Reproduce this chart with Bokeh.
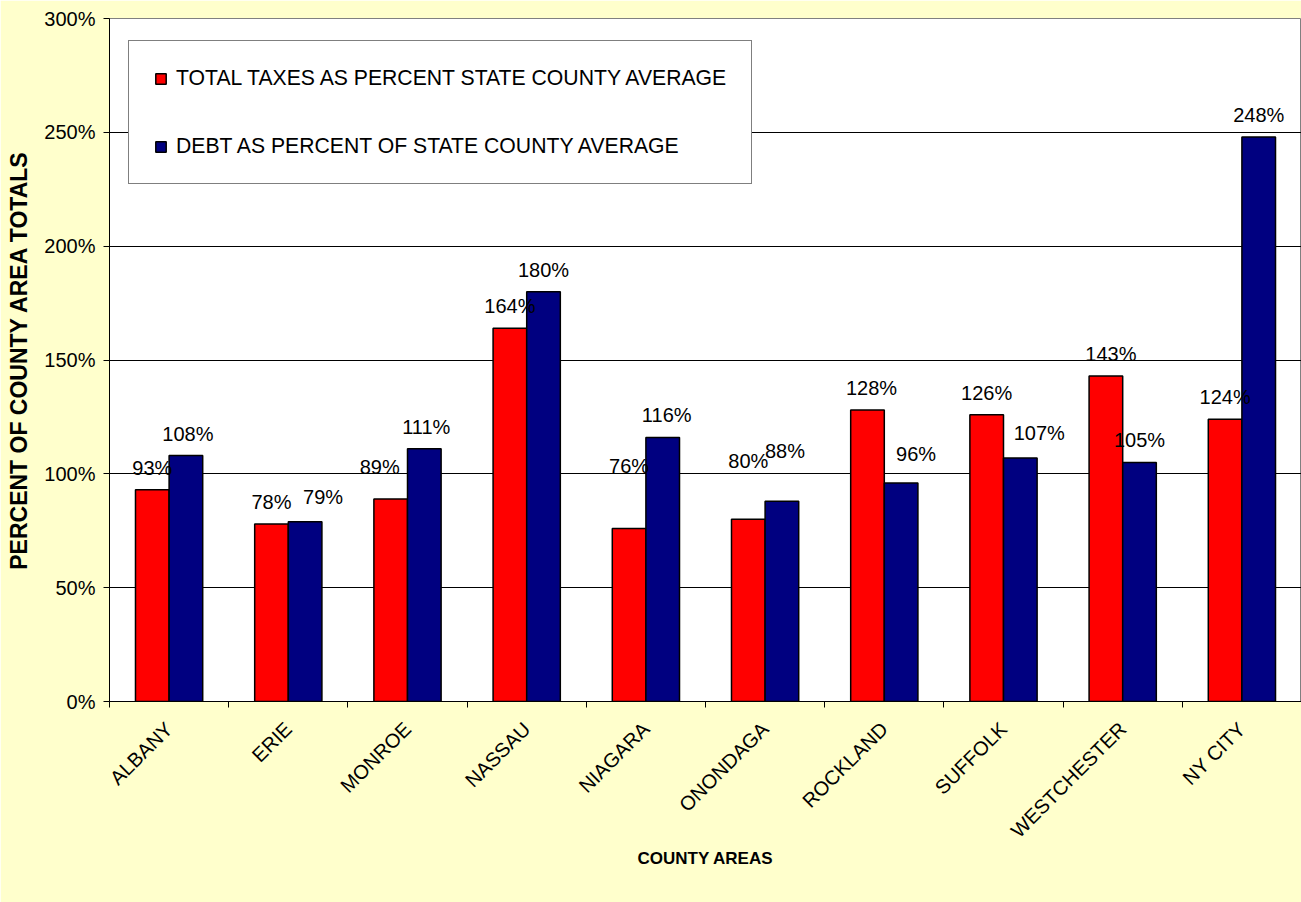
import math
from bokeh.plotting import figure
from bokeh.models import (Range1d, FixedTicker, PrintfTickFormatter, ColumnDataSource,
                          Legend, LegendItem)
from bokeh.core.properties import value
from bokeh.embed import file_html
from bokeh.resources import INLINE

counties = ["ALBANY", "ERIE", "MONROE", "NASSAU", "NIAGARA", "ONONDAGA",
            "ROCKLAND", "SUFFOLK", "WESTCHESTER", "NY CITY"]
taxes_pct = [93, 78, 89, 164, 76, 80, 128, 126, 143, 124]
debt_pct = [108, 79, 111, 180, 116, 88, 96, 107, 105, 248]
y_ticks = [0, 50, 100, 150, 200, 250, 300]

# manual label nudges (screen pixels), as in the original chart
tax_label_dx = [0, 0, -11, 0, 0, 0, 4, 0, 5, 0]
tax_label_dy = [0, 0, -10, 0, -40, -36, 0, 0, 0, 0]
debt_label_dx = [2, 18, 2, 0, 4, 3, 15, 19, 0, 0]
debt_label_dy = [0, -3, 0, 0, 0, -28, -7, -3, 0, 0]

FONT = "Liberation Sans"
BG = "#FFFFCC"
RED = "#FF0000"
NAVY = "#000080"

n = len(counties)
centers = [i + 0.5 for i in range(n)]
bar_w = 0.282
half = bar_w / 2

p = figure(width=1301, height=902, output_backend="svg", toolbar_location=None,
           x_range=Range1d(0, n), y_range=Range1d(0, 300),
           background_fill_color="white", border_fill_color=BG,
           min_border_left=109, min_border_right=0, min_border_top=18,
           min_border_bottom=201)
p.outline_line_color = "#808080"
p.outline_line_width = 1

tax_src = ColumnDataSource(dict(
    x=[c - half for c in centers], top=taxes_pct,
    label=[f"{v}%" for v in taxes_pct], dx=tax_label_dx,
    dy=[-22 + d for d in tax_label_dy]))
debt_src = ColumnDataSource(dict(
    x=[c + half for c in centers], top=debt_pct,
    label=[f"{v}%" for v in debt_pct], dx=debt_label_dx,
    dy=[-22 + d for d in debt_label_dy]))

r1 = p.vbar(x="x", top="top", bottom=0, width=bar_w, source=tax_src,
            fill_color=RED, line_color="black", line_width=1.5)
r2 = p.vbar(x="x", top="top", bottom=0, width=bar_w, source=debt_src,
            fill_color=NAVY, line_color="black", line_width=1.5)

for src in (tax_src, debt_src):
    p.text(x="x", y="top", text="label", source=src, x_offset="dx", y_offset="dy",
           text_align="center", text_baseline="middle",
           text_font=value(FONT), text_font_size="20px", text_color="black")

# grid
p.xgrid.visible = False
p.ygrid.ticker = FixedTicker(ticks=y_ticks[1:-1])
p.ygrid.grid_line_color = "black"
p.ygrid.grid_line_width = 1

# y axis
ya = p.yaxis[0]
ya.ticker = FixedTicker(ticks=y_ticks)
ya.formatter = PrintfTickFormatter(format="%d%%")
ya.axis_line_color = "black"
ya.major_tick_line_color = "black"
ya.major_tick_in = 0
ya.major_tick_out = 6
ya.minor_tick_line_color = None
ya.major_label_text_font = FONT
ya.major_label_text_font_size = "20px"
ya.major_label_text_color = "black"
ya.major_label_standoff = 8
ya.axis_label = "PERCENT OF COUNTY AREA TOTALS"
ya.axis_label_text_font = FONT
ya.axis_label_text_font_size = "23px"
ya.axis_label_text_font_style = "bold"
ya.axis_label_text_color = "black"
ya.axis_label_standoff = 9

# x axis
xa = p.xaxis[0]
xa.ticker = FixedTicker(ticks=centers, minor_ticks=list(range(n + 1)))
xa.major_label_overrides = {c: name for c, name in zip(centers, counties)}
xa.major_tick_line_color = None
xa.minor_tick_line_color = "black"
xa.minor_tick_in = 0
xa.minor_tick_out = 6
xa.axis_line_color = "black"
xa.major_label_orientation = math.pi / 4
xa.major_label_text_font = FONT
xa.major_label_text_font_size = "20px"
xa.major_label_text_color = "black"
xa.major_label_standoff = 18
xa.axis_label = "COUNTY AREAS"
xa.axis_label_text_font = FONT
xa.axis_label_text_font_size = "17px"
xa.axis_label_text_font_style = "bold"
xa.axis_label_text_color = "black"
xa.axis_label_standoff = -3

legend = Legend(items=[
    LegendItem(label="TOTAL TAXES AS PERCENT STATE COUNTY AVERAGE", renderers=[r1]),
    LegendItem(label="DEBT AS PERCENT OF STATE COUNTY AVERAGE", renderers=[r2]),
], location=(19, 517))
legend.label_text_font = FONT
legend.label_text_font_size = "21.2px"
legend.label_text_color = "black"
legend.glyph_width = 13
legend.glyph_height = 13
legend.label_height = 20
legend.label_standoff = 9
legend.spacing = 44
legend.padding = 25
legend.margin = 0
legend.border_line_color = "black"
legend.border_line_width = 1
legend.background_fill_color = "white"
legend.background_fill_alpha = 1
p.add_layout(legend, "center")

open("out.html", "w").write(file_html(p, INLINE))
